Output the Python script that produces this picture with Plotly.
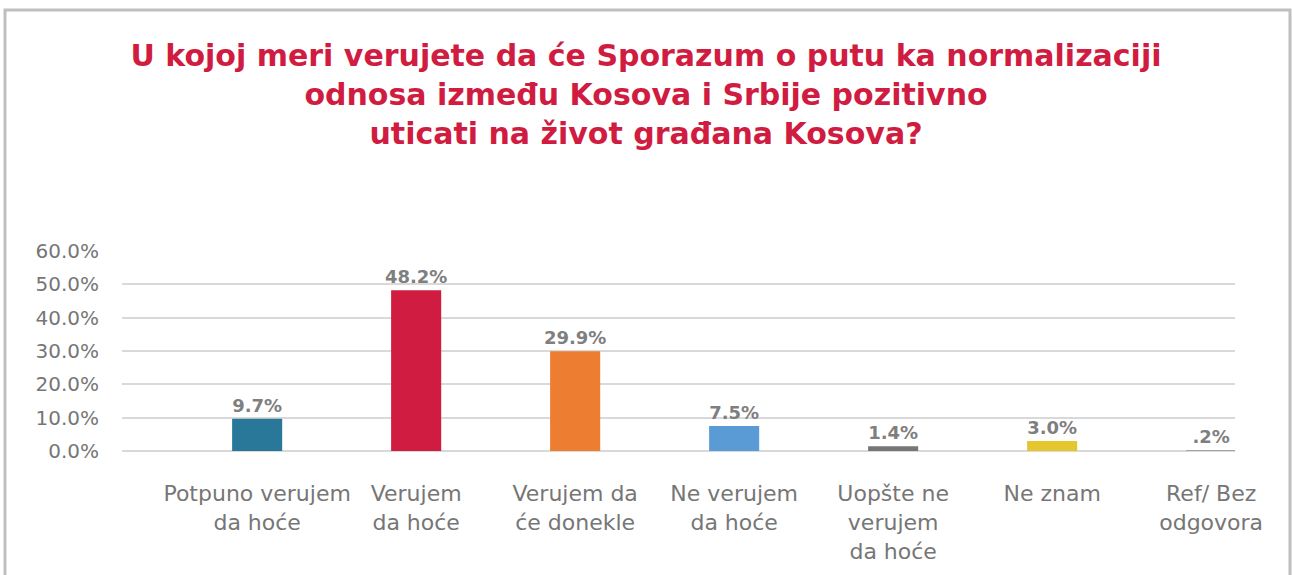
import plotly.graph_objects as go

categories = [
    "Potpuno verujem<br>da hoće",
    "Verujem<br>da hoće",
    "Verujem da<br>će donekle",
    "Ne verujem<br>da hoće",
    "Uopšte ne<br>verujem<br>da hoće",
    "Ne znam",
    "Ref/ Bez<br>odgovora",
]
values = [9.7, 48.2, 29.9, 7.5, 1.4, 3.0, 0.2]
value_labels = ["9.7%", "48.2%", "29.9%", "7.5%", "1.4%", "3.0%", ".2%"]
bar_colors = ["#2A7899", "#D01C40", "#ED7D31", "#5B9BD5", "#767676", "#E5C62E", "#A5A5A5"]
y_ticks = [0, 10, 20, 30, 40, 50, 60]
y_tick_labels = ["0.0%", "10.0%", "20.0%", "30.0%", "40.0%", "50.0%", "60.0%"]

title_text = ("U kojoj meri verujete da će Sporazum o putu ka normalizaciji<br>"
              "odnosa između Kosova i Srbije pozitivno<br>"
              "uticati na život građana Kosova?")

W, H = 1292, 575
ml, mr, mt, mb = 122, 57, 251, 124
pw, ph = W - ml - mr, H - mt - mb

fig = go.Figure(go.Bar(
    x=categories,
    y=values,
    text=value_labels,
    textposition="outside",
    constraintext="none",
    textfont=dict(family="DejaVu Sans", size=18, color="#7F7F7F", weight="bold"),
    marker=dict(color=bar_colors, line=dict(width=0)),
    cliponaxis=False,
    hoverinfo="skip",
))

fig.update_layout(
    width=W, height=H,
    margin=dict(l=ml, r=mr, t=mt, b=mb),
    paper_bgcolor="white",
    plot_bgcolor="white",
    bargap=0.685,
    showlegend=False,
    title=dict(
        text=title_text,
        x=0.5, xref="container", xanchor="center",
        y=1 - 66 / H, yref="container", yanchor="top",
        font=dict(family="DejaVu Sans", size=30, color="#D01C40", weight="bold"),
    ),
    font=dict(family="DejaVu Sans", color="#767676"),
)

fig.update_xaxes(
    type="category",
    range=[-0.85, 6.15],
    showgrid=False,
    showline=False,
    ticks="outside",
    ticklen=23,
    tickcolor="rgba(0,0,0,0)",
    tickfont=dict(family="DejaVu Sans", size=22, color="#767676"),
    fixedrange=True,
)

fig.update_yaxes(
    range=[0, 60],
    tickvals=y_ticks,
    ticktext=y_tick_labels,
    showgrid=True,
    gridcolor="#D9D9D9",
    gridwidth=2,
    zeroline=True,
    zerolinecolor="#D9D9D9",
    zerolinewidth=2,
    showline=False,
    ticks="outside",
    ticklen=18,
    tickcolor="rgba(0,0,0,0)",
    tickfont=dict(family="DejaVu Sans", size=20, color="#767676"),
    fixedrange=True,
)

# Outer frame around the chart (decoration)
fig.add_shape(
    type="rect", xref="paper", yref="paper",
    x0=(5 - ml) / pw, x1=(1290 - ml) / pw,
    y0=(mt + ph - 590) / ph, y1=(mt + ph - 10) / ph,
    line=dict(color="#BFBFBF", width=3),
    fillcolor="rgba(0,0,0,0)",
    layer="below",
)

fig.write_html(
    "out.html",
    config={"displayModeBar": False},
    post_script="document.body.style.margin='0px';document.body.style.overflow='hidden';",
)
